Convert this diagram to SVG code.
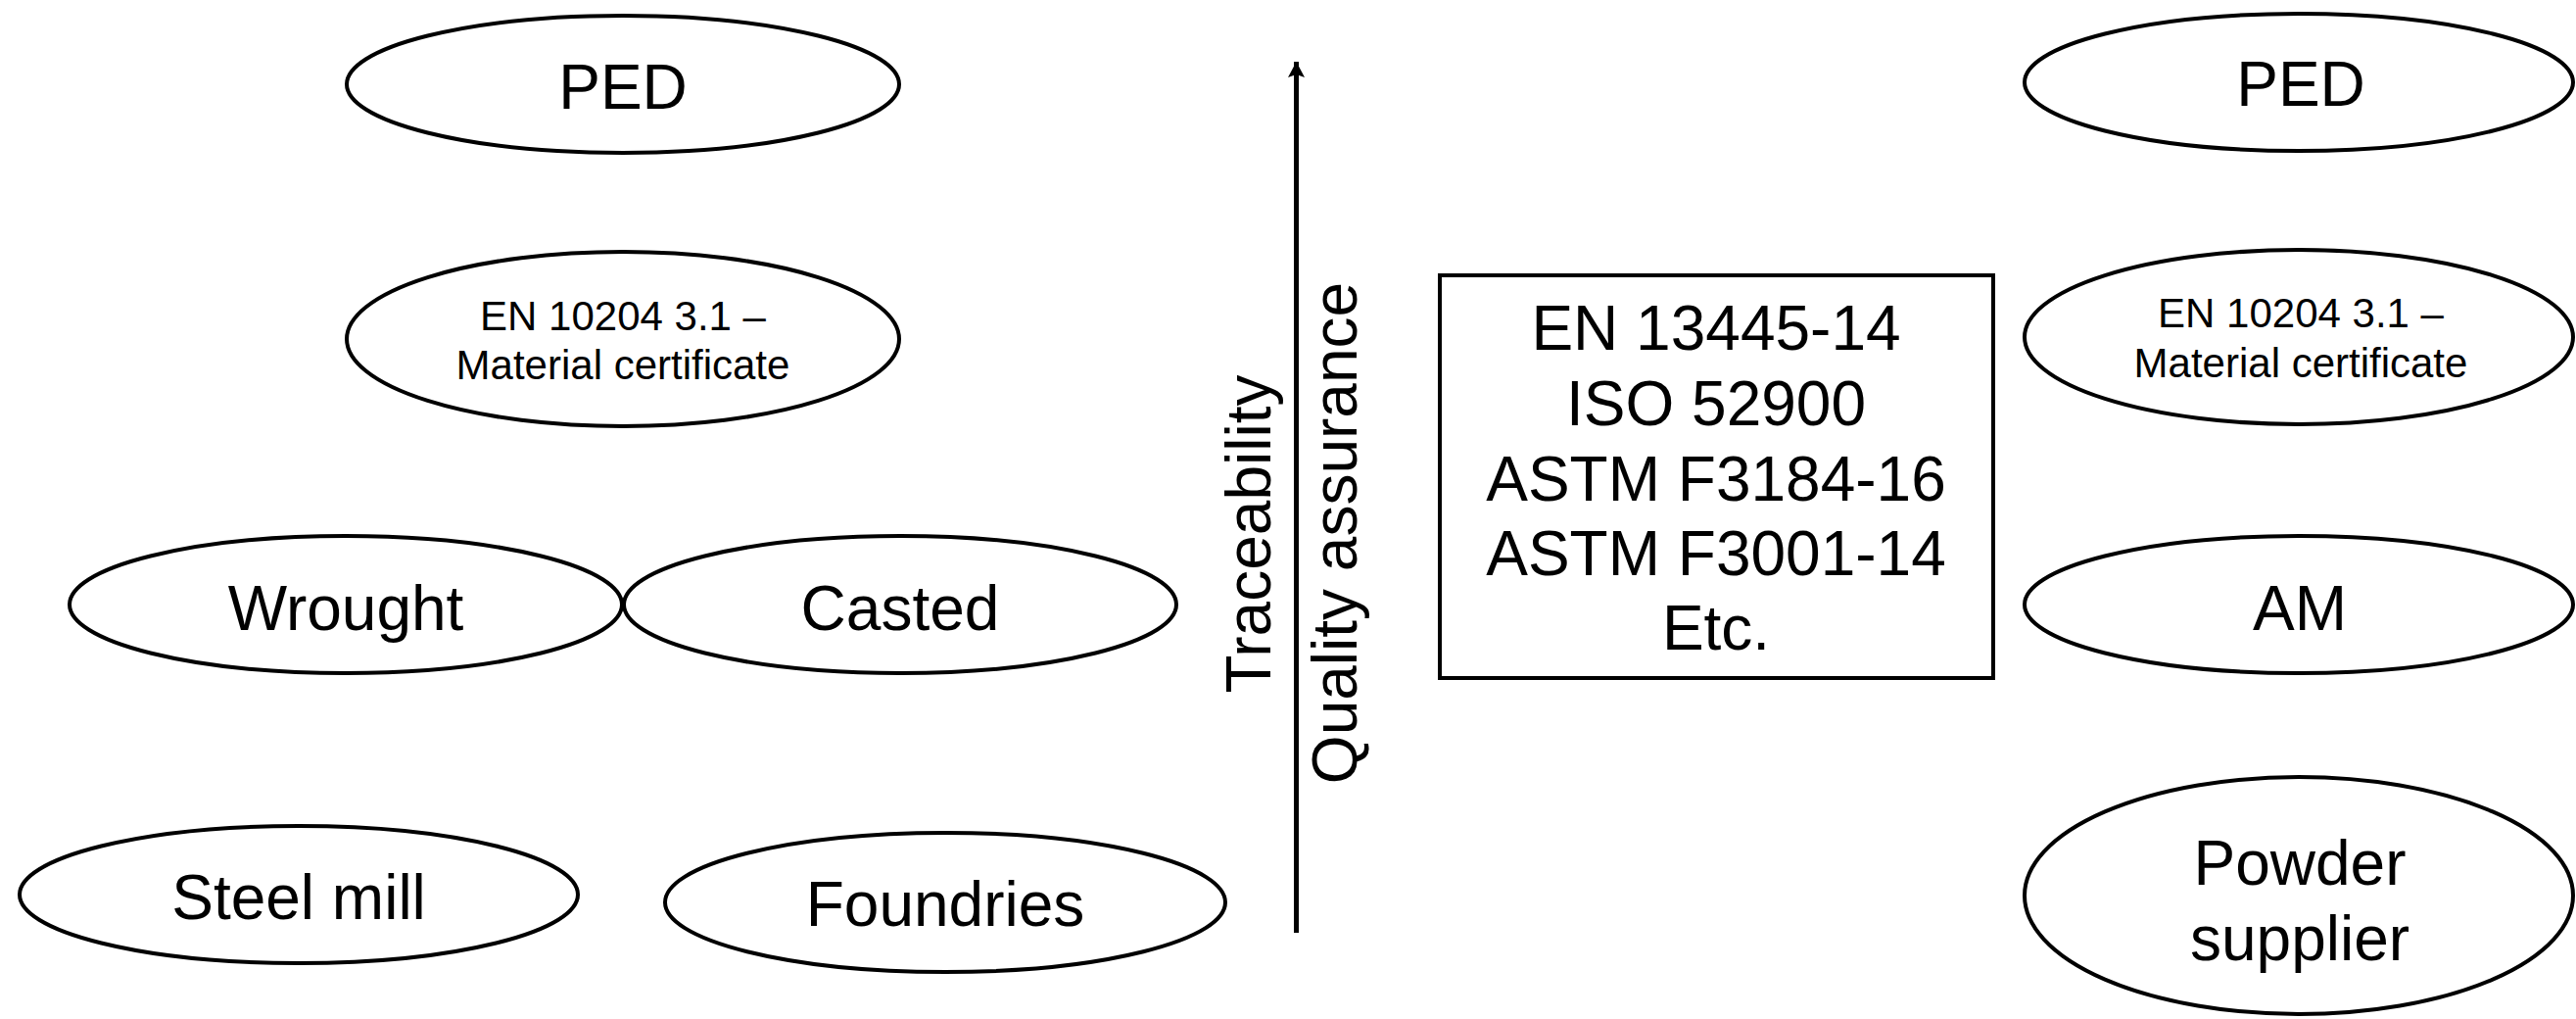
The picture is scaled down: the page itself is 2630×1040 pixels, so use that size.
<svg xmlns="http://www.w3.org/2000/svg" width="2630" height="1040" viewBox="0 0 2630 1040">
<style>
  .n{fill:#fff;stroke:#000;stroke-width:4}
  .t{font-family:"Liberation Sans",Arial,sans-serif;font-size:64px;fill:#000;text-anchor:middle}
  .s{font-size:42px}
  .c{stroke:#000;stroke-width:5;fill:none}
</style>
<defs>
  <marker id="ah" markerUnits="userSpaceOnUse" markerWidth="20" markerHeight="20" viewBox="0 0 20 20" refX="18" refY="10" orient="auto">
    <path d="M2,1.5 L18,10 L2,18.5 L5,10 Z" fill="#000"/>
  </marker>
</defs>
<rect width="2630" height="1040" fill="#fff"/>

<g id="ped-left"><ellipse class="n" cx="636" cy="86" rx="282" ry="70"/><text class="t" x="636" y="111">PED</text></g>
<g id="cert-left"><ellipse class="n" cx="636" cy="346" rx="282" ry="89"/><text class="t s" x="636" y="337">EN 10204 3.1 –</text><text class="t s" x="636" y="387">Material certificate</text></g>
<g id="wrought"><ellipse class="n" cx="353" cy="617" rx="282" ry="70"/><text class="t" x="353" y="643">Wrought</text></g>
<g id="casted"><ellipse class="n" cx="919" cy="617" rx="282" ry="70"/><text class="t" x="919" y="643">Casted</text></g>
<g id="steel-mill"><ellipse class="n" cx="305" cy="913" rx="285" ry="70"/><text class="t" x="305" y="938">Steel mill</text></g>
<g id="foundries"><ellipse class="n" cx="965" cy="921" rx="286" ry="71"/><text class="t" x="965" y="945">Foundries</text></g>

<g id="labels">
  <text class="t" transform="translate(1297,545) rotate(-90)">Traceability</text>
  <text class="t" transform="translate(1385,544) rotate(-90)">Quality assurance</text>
</g>

<g id="standards"><rect class="n" x="1470" y="281" width="565" height="411"/>
  <text class="t" x="1752" y="357">EN 13445-14</text>
  <text class="t" x="1752" y="434">ISO 52900</text>
  <text class="t" x="1752" y="511">ASTM F3184-16</text>
  <text class="t" x="1752" y="587">ASTM F3001-14</text>
  <text class="t" x="1752" y="663">Etc.</text>
</g>

<g id="ped-right"><ellipse class="n" cx="2347" cy="84" rx="280" ry="70"/><text class="t" x="2349" y="108">PED</text></g>
<g id="cert-right"><ellipse class="n" cx="2347" cy="344" rx="280" ry="89"/><text class="t s" x="2349" y="334">EN 10204 3.1 –</text><text class="t s" x="2349" y="385">Material certificate</text></g>
<g id="am"><ellipse class="n" cx="2347" cy="617" rx="280" ry="70"/><text class="t" x="2348" y="643">AM</text></g>
<g id="powder"><ellipse class="n" cx="2347" cy="914" rx="280" ry="121"/><text class="t" x="2348" y="903">Powder</text><text class="t" x="2348" y="980">supplier</text></g>

<g id="connectors">
  <line class="c" x1="1323.5" y1="952" x2="1323.5" y2="63" marker-end="url(#ah)"/>
</g>
</svg>
